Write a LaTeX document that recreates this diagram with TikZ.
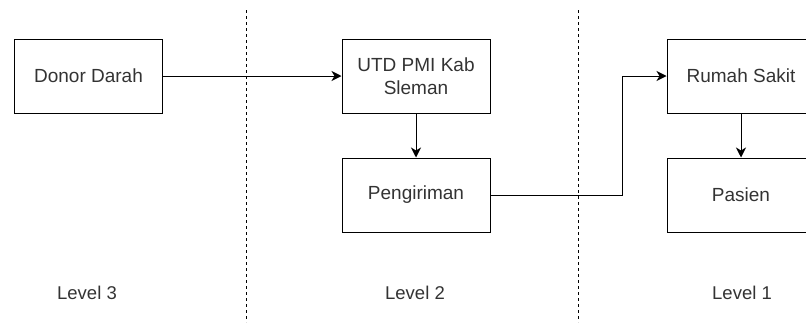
\documentclass[tikz,border=0pt]{standalone}
\usepackage{fontspec}
\setmainfont{Liberation Sans}
\usepackage{tikz}
\usetikzlibrary{arrows.meta,positioning,calc}
\definecolor{cText}{RGB}{51,51,51}

\begin{document}
\begin{tikzpicture}[x=1pt,y=-1pt,>={Stealth[length=10pt,width=10pt,inset=3pt]},
  box/.style={draw,line width=1pt,minimum width=148pt,minimum height=74pt,
    align=center,font=\fontsize{19}{23}\selectfont,text=cText},
  flow/.style={->,line width=1pt},
  lvl/.style={font=\fontsize{18.5}{22}\selectfont,text=cText},
  sep/.style={line width=0.7pt,dash pattern=on 3pt off 3pt}]
  % page frame
  \useasboundingbox (0,0) rectangle (806,322);
  \clip (0,0) rectangle (806,322);
  % level separators
  \draw[sep] (246,10) -- (246,322);
  \draw[sep] (578,10) -- (578,322);
  % boxes
  \node[box] (donor) at (88.5,76) {Donor Darah};
  \node[box] (utd) at (416,76) {UTD PMI Kab\\Sleman};
  \node[box] (kirim) at (416,195) {Pengiriman};
  \node[box] (rs) at (741,76) {Rumah Sakit};
  \node[box] (pasien) at (741,195) {Pasien};
  % flows
  \coordinate (bend) at (622,195);
  \draw[flow] (donor) -- (utd);
  \draw[flow] (utd) -- (kirim);
  \draw[flow] (kirim.east) -- (bend) |- (rs.west);
  \draw[flow] (rs) -- (pasien);
  % level labels
  \node[lvl] (lv3) at (87,293) {Level 3};
  \node[lvl] (lv2) at (415,293) {Level 2};
  \node[lvl] (lv1) at (742,293) {Level 1};
\end{tikzpicture}
\end{document}
